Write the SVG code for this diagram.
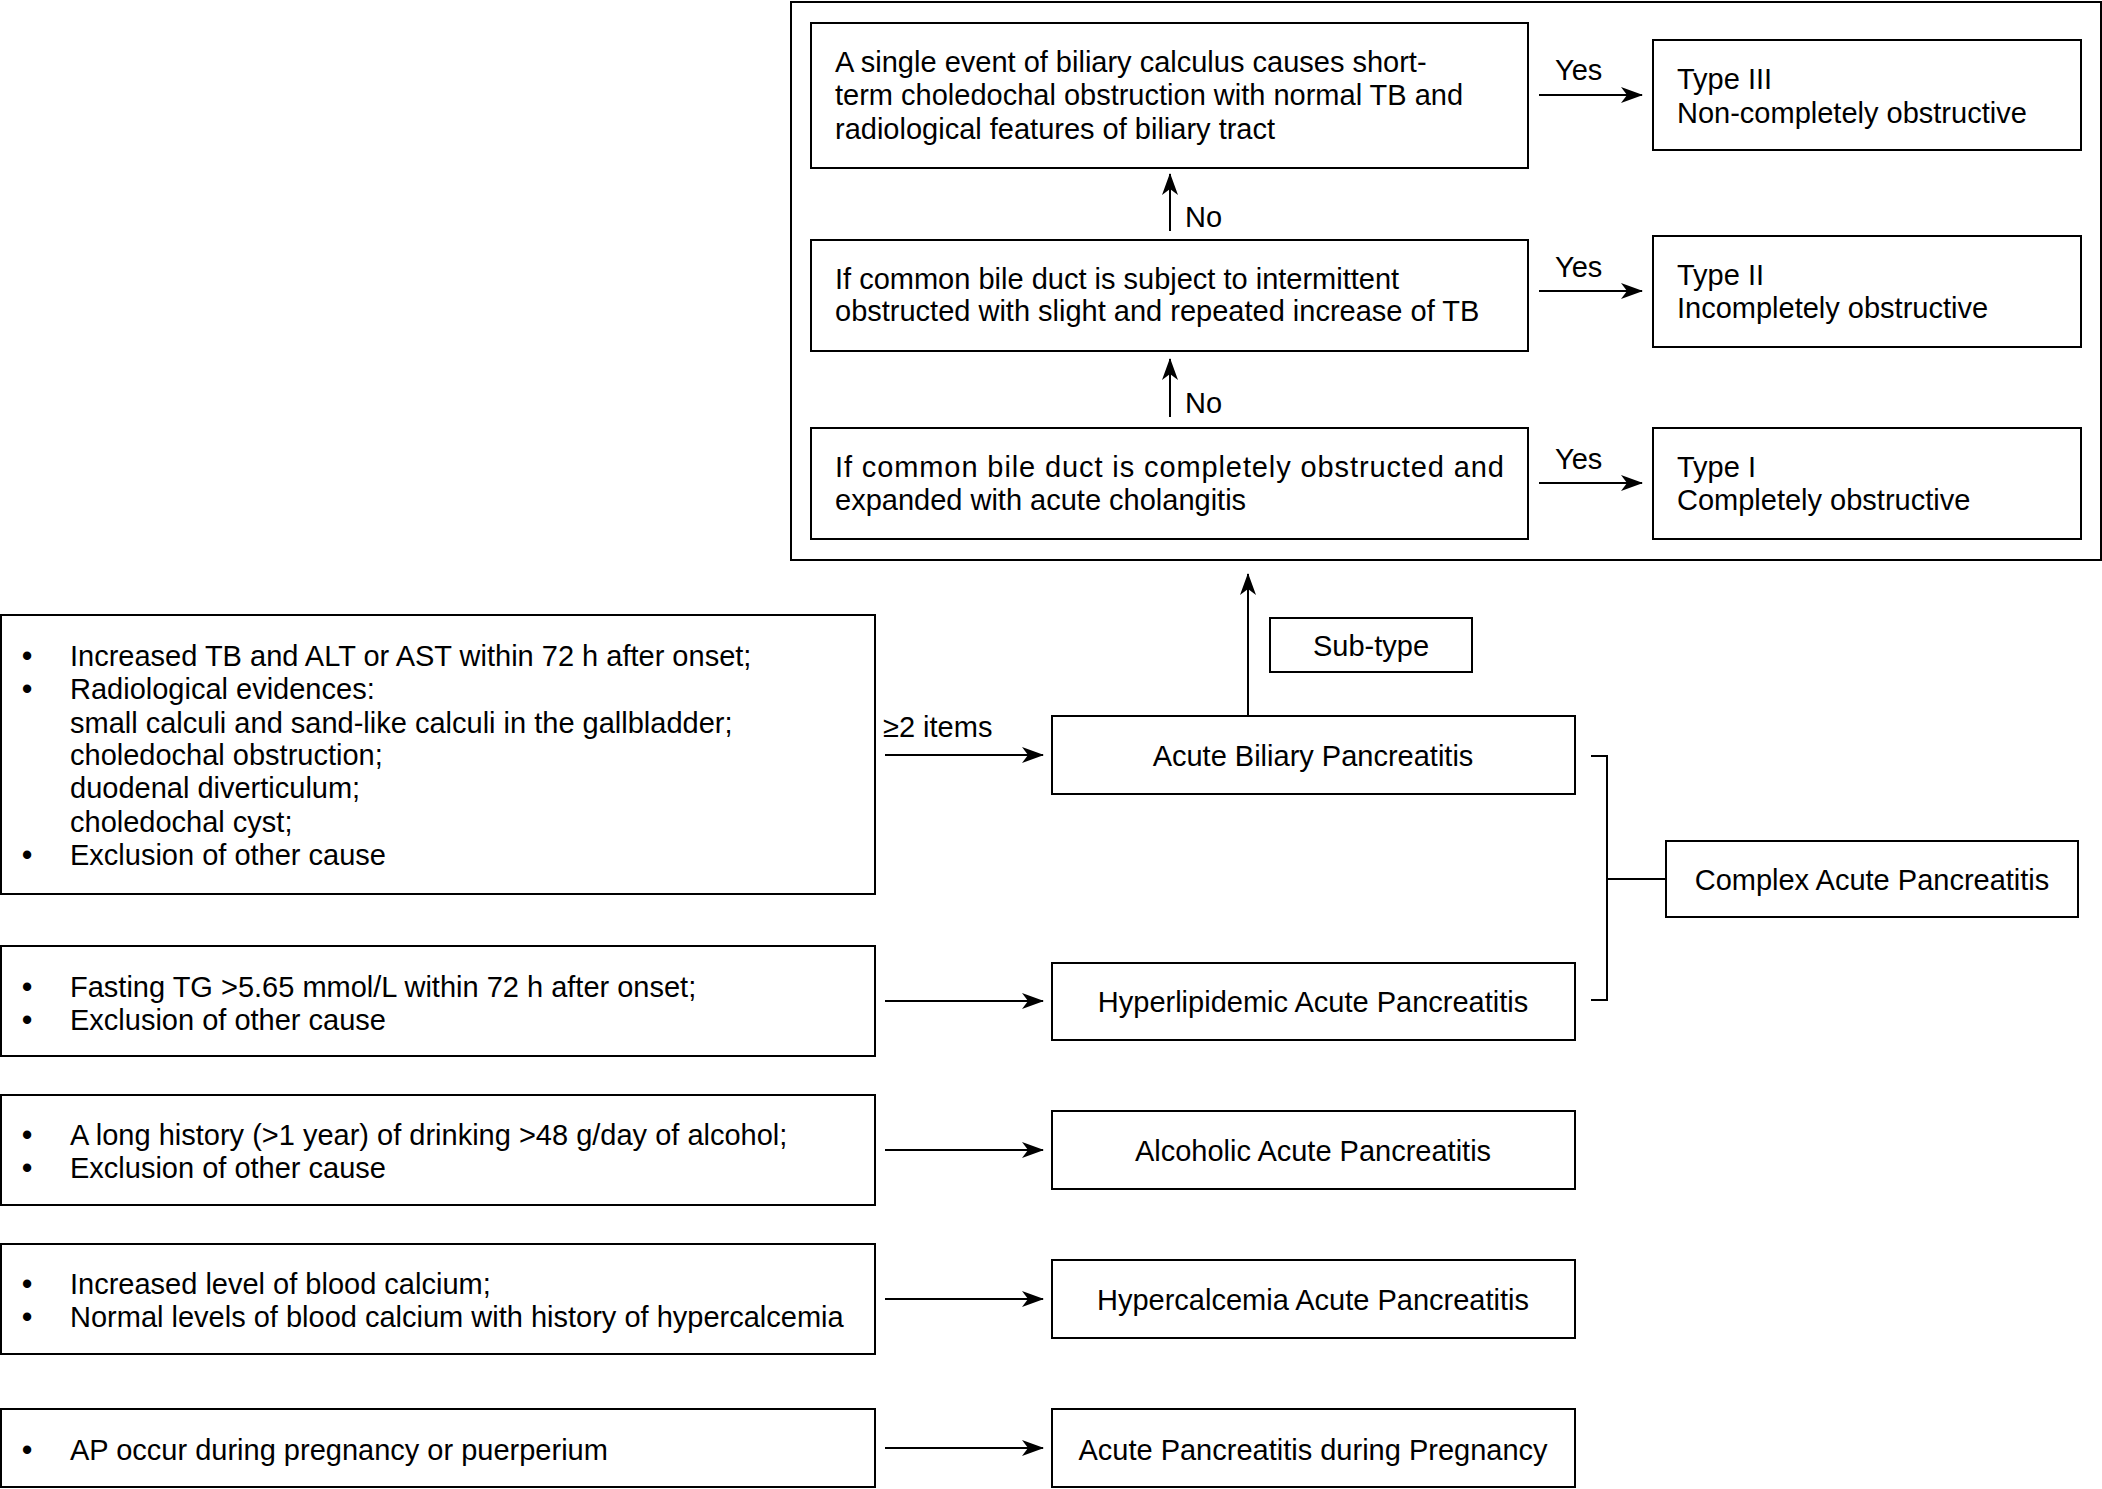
<svg xmlns="http://www.w3.org/2000/svg" width="2102" height="1489" viewBox="0 0 2102 1489">
<style>
rect{fill:#fff;stroke:#000;stroke-width:2}
text{font-family:"Liberation Sans",Arial,sans-serif;font-size:29px;fill:#000}
.c{text-anchor:middle}
.b{font-weight:bold}
.ln{stroke:#000;stroke-width:2;fill:none}
</style>
<defs>
<marker id="ah" viewBox="0 0 22 16" refX="21" refY="8" markerWidth="22" markerHeight="16" markerUnits="userSpaceOnUse" orient="auto">
<path d="M0,0 L22,8 L0,16 L6,8 z" fill="#000"/>
</marker>
</defs>
<rect id="frame" x="791" y="2" width="1310" height="558"/>
<g id="nA"><rect x="811" y="23" width="717" height="145"/>
<text x="835" y="72">A single event of biliary calculus causes short-</text>
<text x="835" y="105">term choledochal obstruction with normal TB and</text>
<text x="835" y="139">radiological features of biliary tract</text></g>
<g id="nT3"><rect x="1653" y="40" width="428" height="110"/>
<text x="1677" y="89">Type III</text><text x="1677" y="123">Non-completely obstructive</text></g>
<g id="nB"><rect x="811" y="240" width="717" height="111"/>
<text x="835" y="289">If common bile duct is subject to intermittent</text>
<text x="835" y="321">obstructed with slight and repeated increase of TB</text></g>
<g id="nT2"><rect x="1653" y="236" width="428" height="111"/>
<text x="1677" y="285">Type II</text><text x="1677" y="318">Incompletely obstructive</text></g>
<g id="nC"><rect x="811" y="428" width="717" height="111"/>
<text x="835" y="477" textLength="669" lengthAdjust="spacing">If common bile duct is completely obstructed and</text>
<text x="835" y="510">expanded with acute cholangitis</text></g>
<g id="nT1"><rect x="1653" y="428" width="428" height="111"/>
<text x="1677" y="477">Type I</text><text x="1677" y="510">Completely obstructive</text></g>
<g id="nSub"><rect x="1270" y="618" width="202" height="54"/><text class="c" x="1371" y="656">Sub-type</text></g>
<g id="nL1"><rect x="1" y="615" width="874" height="279"/>
<text class="b" x="22" y="666">•</text><text x="70" y="666">Increased TB and ALT or AST within 72 h after onset;</text>
<text class="b" x="22" y="699">•</text><text x="70" y="699">Radiological evidences:</text>
<text x="70" y="733">small calculi and sand-like calculi in the gallbladder;</text>
<text x="70" y="765">choledochal obstruction;</text>
<text x="70" y="798">duodenal diverticulum;</text>
<text x="70" y="832">choledochal cyst;</text>
<text class="b" x="22" y="865">•</text><text x="70" y="865">Exclusion of other cause</text></g>
<g id="nABP"><rect x="1052" y="716" width="523" height="78"/><text class="c" x="1313" y="766">Acute Biliary Pancreatitis</text></g>
<g id="nCAP"><rect x="1666" y="841" width="412" height="76"/><text class="c" x="1872" y="890">Complex Acute Pancreatitis</text></g>
<g id="nL2"><rect x="1" y="946" width="874" height="110"/>
<text class="b" x="22" y="997">•</text><text x="70" y="997">Fasting TG &gt;5.65 mmol/L within 72 h after onset;</text>
<text class="b" x="22" y="1030">•</text><text x="70" y="1030">Exclusion of other cause</text></g>
<g id="nHL"><rect x="1052" y="963" width="523" height="77"/><text class="c" x="1313" y="1012">Hyperlipidemic Acute Pancreatitis</text></g>
<g id="nL3"><rect x="1" y="1095" width="874" height="110"/>
<text class="b" x="22" y="1145">•</text><text x="70" y="1145">A long history (&gt;1 year) of drinking &gt;48 g/day of alcohol;</text>
<text class="b" x="22" y="1178">•</text><text x="70" y="1178">Exclusion of other cause</text></g>
<g id="nAL"><rect x="1052" y="1111" width="523" height="78"/><text class="c" x="1313" y="1161">Alcoholic Acute Pancreatitis</text></g>
<g id="nL4"><rect x="1" y="1244" width="874" height="110"/>
<text class="b" x="22" y="1294">•</text><text x="70" y="1294">Increased level of blood calcium;</text>
<text class="b" x="22" y="1327">•</text><text x="70" y="1327">Normal levels of blood calcium with history of hypercalcemia</text></g>
<g id="nHC"><rect x="1052" y="1260" width="523" height="78"/><text class="c" x="1313" y="1310">Hypercalcemia Acute Pancreatitis</text></g>
<g id="nL5"><rect x="1" y="1409" width="874" height="78"/>
<text class="b" x="22" y="1460">•</text><text x="70" y="1460">AP occur during pregnancy or puerperium</text></g>
<g id="nPR"><rect x="1052" y="1409" width="523" height="78"/><text class="c" x="1313" y="1460">Acute Pancreatitis during Pregnancy</text></g>
<g id="connectors">
<line class="ln" x1="1539" y1="95" x2="1642" y2="95" marker-end="url(#ah)"/>
<line class="ln" x1="1539" y1="291" x2="1642" y2="291" marker-end="url(#ah)"/>
<line class="ln" x1="1539" y1="483" x2="1642" y2="483" marker-end="url(#ah)"/>
<text x="1555" y="80">Yes</text><text x="1555" y="277">Yes</text><text x="1555" y="469">Yes</text>
<line class="ln" x1="1170" y1="231" x2="1170" y2="174" marker-end="url(#ah)"/>
<line class="ln" x1="1170" y1="417" x2="1170" y2="359" marker-end="url(#ah)"/>
<text x="1185" y="227">No</text><text x="1185" y="413">No</text>
<line class="ln" x1="1248" y1="716" x2="1248" y2="574" marker-end="url(#ah)"/>
<line class="ln" x1="885" y1="755" x2="1043" y2="755" marker-end="url(#ah)"/>
<text x="883" y="737">≥2 items</text>
<line class="ln" x1="885" y1="1001" x2="1043" y2="1001" marker-end="url(#ah)"/>
<line class="ln" x1="885" y1="1150" x2="1043" y2="1150" marker-end="url(#ah)"/>
<line class="ln" x1="885" y1="1299" x2="1043" y2="1299" marker-end="url(#ah)"/>
<line class="ln" x1="885" y1="1448" x2="1043" y2="1448" marker-end="url(#ah)"/>
<polyline class="ln" points="1591,756 1607,756 1607,1000 1591,1000"/>
<line class="ln" x1="1607" y1="879" x2="1666" y2="879"/>
</g>
</svg>
